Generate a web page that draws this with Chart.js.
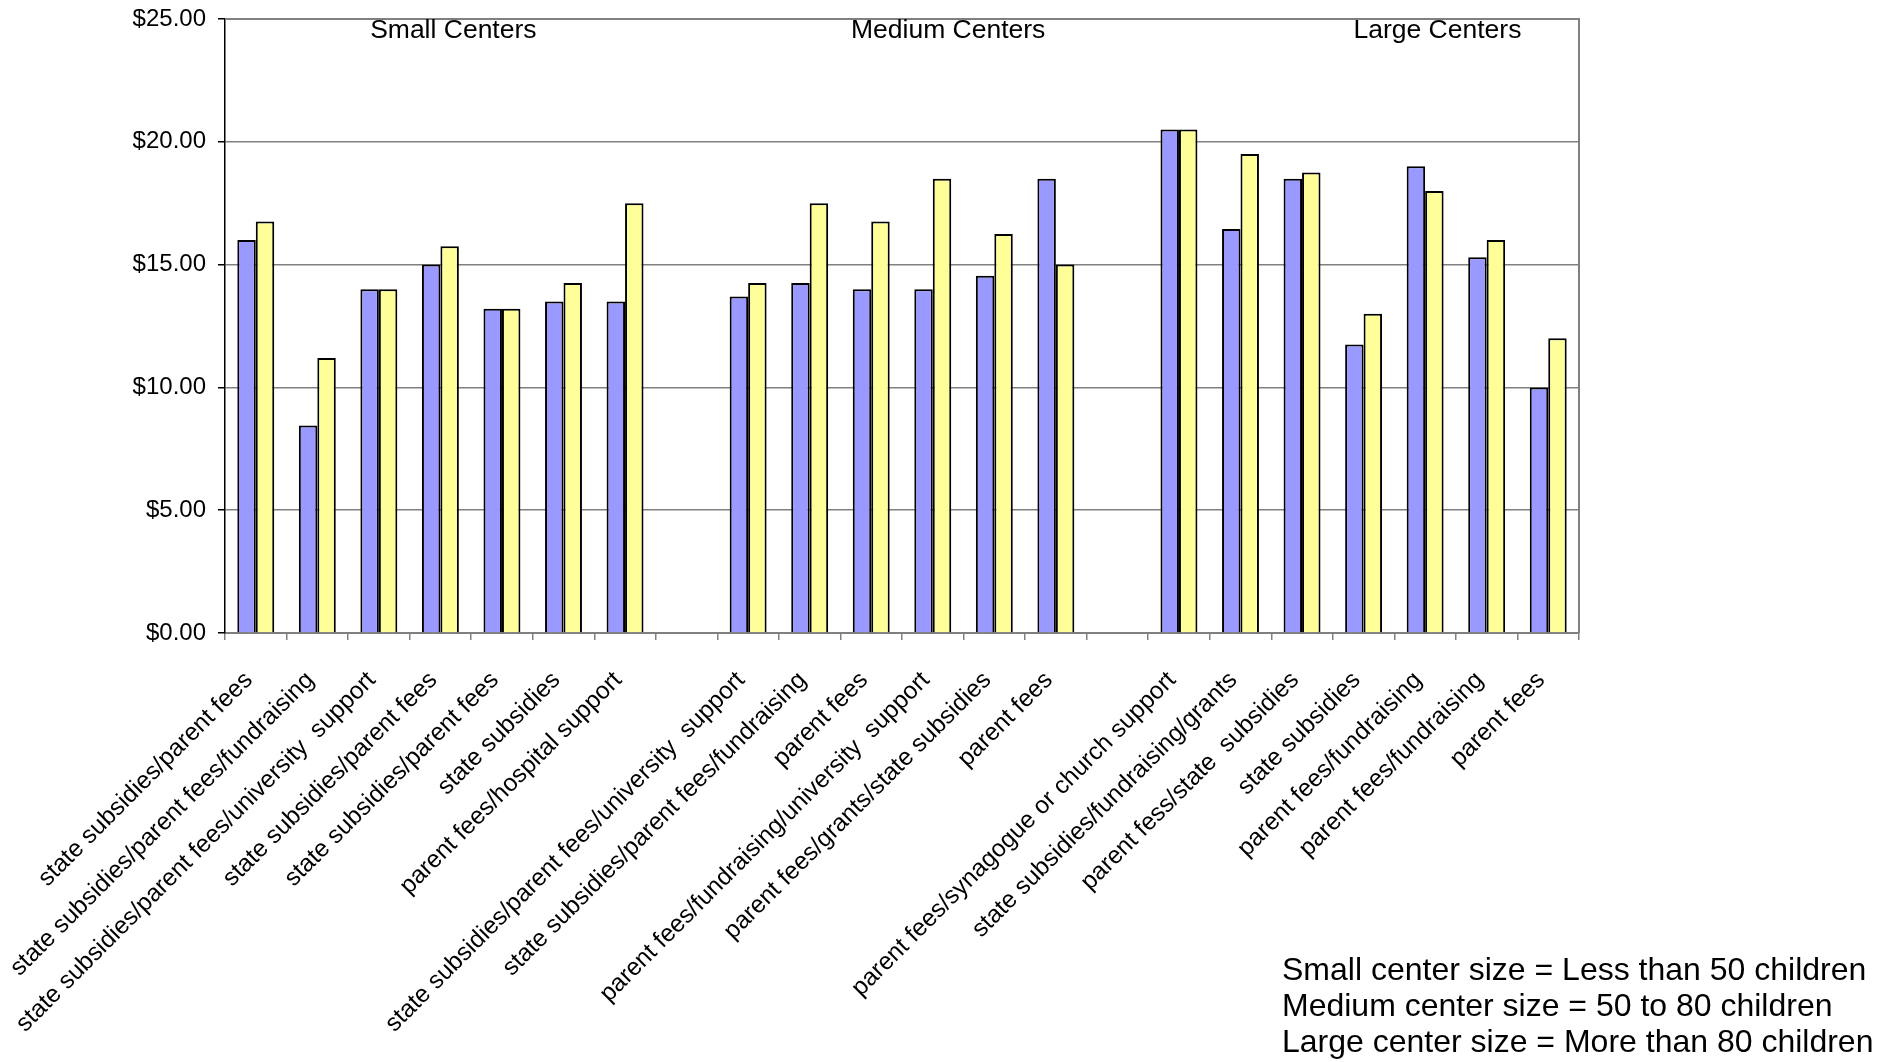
<!DOCTYPE html>
<html>
<head>
<meta charset="utf-8">
<script src="https://cdn.jsdelivr.net/npm/chart.js@4/dist/chart.umd.min.js"></script>
<style>
  html, body { margin: 0; padding: 0; background: #fff; }
  #wrap { width: 1891px; height: 1062px; position: relative; }
</style>
</head>
<body>
<div id="wrap"><canvas id="c"></canvas></div>
<script>
// Funding sources of each center, grouped Small / Medium / Large (blank slots separate the groups)
const categories = [
  'state subsidies/parent fees',
  'state subsidies/parent fees/fundraising',
  'state subsidies/parent fees/university  support',
  'state subsidies/parent fees',
  'state subsidies/parent fees',
  'state subsidies',
  'parent fees/hospital support',
  '',
  'state subsidies/parent fees/university  support',
  'state subsidies/parent fees/fundraising',
  'parent fees',
  'parent fees/fundraising/university  support',
  'parent fees/grants/state subsidies',
  'parent fees',
  '',
  'parent fees/synagogue or church support',
  'state subsidies/fundraising/grants',
  'parent fess/state  subsidies',
  'state subsidies',
  'parent fees/fundraising',
  'parent fees/fundraising',
  'parent fees'
];

// Hourly wage values, first series (blue) and second series (yellow)
const blueValues = [
  16.0, 8.45, 14.0, 15.0, 13.2, 13.5, 13.5,
  null,
  13.7, 14.25, 14.0, 14.0, 14.55, 18.5,
  null,
  20.5, 16.45, 18.5, 11.75, 19.0, 15.3, 10.0
];
const yellowValues = [
  16.75, 11.2, 14.0, 15.75, 13.2, 14.25, 17.5,
  null,
  14.25, 17.5, 16.75, 18.5, 16.25, 15.0,
  null,
  20.5, 19.5, 18.75, 13.0, 18.0, 16.0, 12.0
];

const yTickValues = [0, 5, 10, 15, 20, 25];

const groupTitles = ['Small Centers', 'Medium Centers', 'Large Centers'];

const noteLines = [
  'Small center size = Less than 50 children',
  'Medium center size = 50 to 80 children',
  'Large center size = More than 80 children'
];

const FONT = '"Liberation Sans", Arial, Helvetica, sans-serif';

// Frame, group headings and the size notes
const decor = {
  id: 'decor',
  afterDraw(chart) {
    const { ctx, chartArea: a, scales: { x } } = chart;
    ctx.save();
    ctx.strokeStyle = '#808080';
    ctx.lineWidth = 2;
    ctx.beginPath();
    ctx.moveTo(a.left, a.top);
    ctx.lineTo(a.right, a.top);
    ctx.lineTo(a.right, a.bottom);
    ctx.stroke();

    // headings sit over their group of bars (category index positions)
    const headingAt = [3.21, 11.25, 19.2];
    ctx.fillStyle = '#000';
    ctx.font = '26.5px ' + FONT;
    ctx.textAlign = 'center';
    ctx.textBaseline = 'alphabetic';
    groupTitles.forEach((t, i) => ctx.fillText(t, x.getPixelForValue(headingAt[i]), a.top + 19));

    ctx.font = '32px ' + FONT;
    ctx.textAlign = 'left';
    noteLines.forEach((t, i) => ctx.fillText(t, 1282, 980 + i * 36));
    ctx.restore();
  }
};

new Chart(document.getElementById('c'), {
  type: 'bar',
  data: {
    labels: categories,
    datasets: [
      {
        label: 'Series 1',
        data: blueValues,
        backgroundColor: '#9999FF',
        borderColor: '#000',
        borderWidth: 2,
        categoryPercentage: 0.6,
        barPercentage: 1.0
      },
      {
        label: 'Series 2',
        data: yellowValues,
        backgroundColor: '#FFFF99',
        borderColor: '#000',
        borderWidth: 2,
        categoryPercentage: 0.6,
        barPercentage: 1.0
      }
    ]
  },
  options: {
    responsive: true,
    maintainAspectRatio: false,
    animation: false,
    layout: { padding: { top: 19, right: 312, bottom: 0, left: 0 } },
    plugins: {
      legend: { display: false },
      tooltip: { enabled: false },
      title: { display: false }
    },
    scales: {
      x: {
        grid: {
          offset: true,
          drawOnChartArea: false,
          drawTicks: true,
          tickLength: 7,
          color: '#808080',
          lineWidth: 1.5
        },
        border: { color: '#808080', width: 2 },
        ticks: {
          autoSkip: false,
          minRotation: 45,
          maxRotation: 45,
          color: '#000',
          font: { family: FONT, size: 24.5 },
          padding: 26,
          labelOffset: -7
        },
        afterFit(s) {
          s.height = 429;
          s.paddingLeft = 0;
          s.paddingRight = 0;
        }
      },
      y: {
        min: 0,
        max: 25,
        afterBuildTicks(s) {
          s.ticks = yTickValues.map(v => ({ value: v }));
        },
        ticks: {
          callback: v => '$' + Number(v).toFixed(2),
          color: '#000',
          font: { family: FONT, size: 24 },
          padding: 12
        },
        grid: { color: '#808080', lineWidth: 1.5, tickLength: 7, tickColor: '#000' },
        border: { color: '#000', width: 1.5 },
        afterFit(s) {
          s.width = 225;
          s.paddingTop = 0;
          s.paddingBottom = 0;
        }
      }
    }
  },
  plugins: [decor]
});
</script>
</body>
</html>
